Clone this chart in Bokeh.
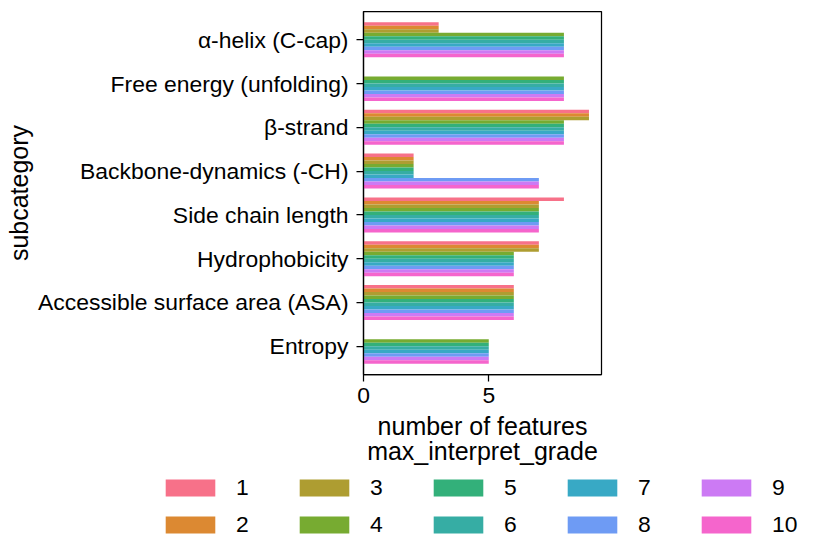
import numpy as np
from bokeh.plotting import figure
from bokeh.layouts import column
from bokeh.models import (ColumnDataSource, Range1d, FixedTicker, Legend, LegendItem)
from bokeh.embed import file_html
from bokeh.resources import INLINE

# ---- data ----
categories = ["α-helix (C-cap)", "Free energy (unfolding)", "β-strand",
              "Backbone-dynamics (-CH)", "Side chain length", "Hydrophobicity",
              "Accessible surface area (ASA)", "Entropy"]
grades = ["1", "2", "3", "4", "5", "6", "7", "8", "9", "10"]
nan = float("nan")
# number of features per category, one entry per max_interpret_grade 1..10
alpha_helix = [3, 3, 3, 8, 8, 8, 8, 8, 8, 8]
free_energy = [nan, nan, nan, 8, 8, 8, 8, 8, 8, 8]
beta_strand = [9, 9, 9, 8, 8, 8, 8, 8, 8, 8]
backbone_dynamics = [2, 2, 2, 2, 2, 2, 2, 7, 7, 7]
side_chain_length = [8, 7, 7, 7, 7, 7, 7, 7, 7, 7]
hydrophobicity = [7, 7, 7, 6, 6, 6, 6, 6, 6, 6]
asa = [6, 6, 6, 6, 6, 6, 6, 6, 6, 6]
entropy = [nan, nan, nan, 5, 5, 5, 5, 5, 5, 5]
x_ticks = [0, 5]
x_label = "number of features"
legend_title = "max_interpret_grade"

series = [alpha_helix, free_energy, beta_strand, backbone_dynamics,
          side_chain_length, hydrophobicity, asa, entropy]
palette = ['#f77189', '#dc8932', '#ae9d31', '#77ab31', '#33b07a',
           '#36ada4', '#38a9c5', '#6e9bf4', '#cc7af4', '#f565cc']

FONT = "Liberation Sans"
n_cat = len(categories)
n_hue = len(grades)
group_w = 0.8
bar_h = group_w / n_hue

TOP_H = 474
p = figure(width=818, height=TOP_H, output_backend="svg", toolbar_location=None,
           x_range=Range1d(0, 9.5), y_range=Range1d(n_cat - 0.5 + 0.145, -0.5 - 0.145),
           min_border_left=363, min_border_right=217, min_border_top=11,
           min_border_bottom=TOP_H - 374)
p.frame_align = False
p.background_fill_color = "white"
p.border_fill_color = "white"
p.outline_line_color = "black"
p.outline_line_width = 1.25
p.xgrid.visible = False
p.ygrid.visible = False

for j, g in enumerate(grades):
    ys, ws = [], []
    for i, s in enumerate(series):
        v = s[j]
        if not np.isnan(v):
            ys.append(i - group_w / 2 + bar_h * (j + 0.5))
            ws.append(v)
    src = ColumnDataSource(dict(y=ys, right=ws))
    p.hbar(y="y", left=0, right="right", height=bar_h, source=src,
           fill_color=palette[j], line_color=None)

# axes
for ax in (p.xaxis[0], p.yaxis[0]):
    ax.axis_line_width = 1.25
    ax.major_tick_line_width = 1.25
    ax.major_tick_out = 7
    ax.major_tick_in = 0
    ax.minor_tick_out = 0
    ax.minor_tick_in = 0
    ax.major_label_text_font = FONT
    ax.major_label_text_font_size = "22.9px"
    ax.major_label_text_color = "black"
    ax.axis_label_text_font = FONT
    ax.axis_label_text_font_size = "25px"
    ax.axis_label_text_font_style = "normal"
    ax.axis_label_text_color = "black"

p.xaxis.ticker = FixedTicker(ticks=x_ticks)
# the legend title sits centred right under the x label, as in the reference
p.xaxis.axis_label = x_label + "\n" + legend_title
p.xaxis.axis_label_text_line_height = 0.92
p.xaxis.major_label_standoff = 6
p.xaxis.axis_label_standoff = 6

p.yaxis.ticker = FixedTicker(ticks=list(range(n_cat)))
p.yaxis.major_label_overrides = {i: c for i, c in enumerate(categories)}
p.yaxis.axis_label = "subcategory"
p.yaxis.major_label_standoff = 8
p.yaxis.axis_label_standoff = 2

# ---- legend strip (own blank figure) ----
LEG_H = 554 - TOP_H
q = figure(width=818, height=LEG_H, output_backend="svg", toolbar_location=None,
           x_range=Range1d(0, 1), y_range=Range1d(0, 1),
           min_border=0, min_border_left=0, min_border_right=0,
           min_border_top=0, min_border_bottom=0)
q.frame_align = False
q.axis.visible = False
q.grid.visible = False
q.outline_line_color = None
q.background_fill_color = "white"
q.border_fill_color = "white"

leg_renderers = []
for j, g in enumerate(grades):
    # one bar per grade, kept outside the strip's visible range (legend swatch only)
    r = q.hbar(y=[-5], left=[0], right=[1], height=0.1,
               fill_color=palette[j], line_color=None)
    leg_renderers.append(r)

order = [0, 2, 4, 6, 8, 1, 3, 5, 7, 9]
items = [LegendItem(label=grades[k], renderers=[leg_renderers[k]]) for k in order]
legend = Legend(items=items, orientation="horizontal", ncols=5,
                location=(159, 16),
                glyph_width=62, glyph_height=21, label_standoff=15,
                label_width=47, label_height=17, spacing=10, padding=0, margin=0,
                label_text_font=FONT, label_text_font_size="22.9px",
                label_text_color="black",
                border_line_color=None, background_fill_alpha=0)
q.add_layout(legend, "center")

layout = column(p, q, spacing=0)
open("out.html", "w").write(file_html(layout, INLINE))
